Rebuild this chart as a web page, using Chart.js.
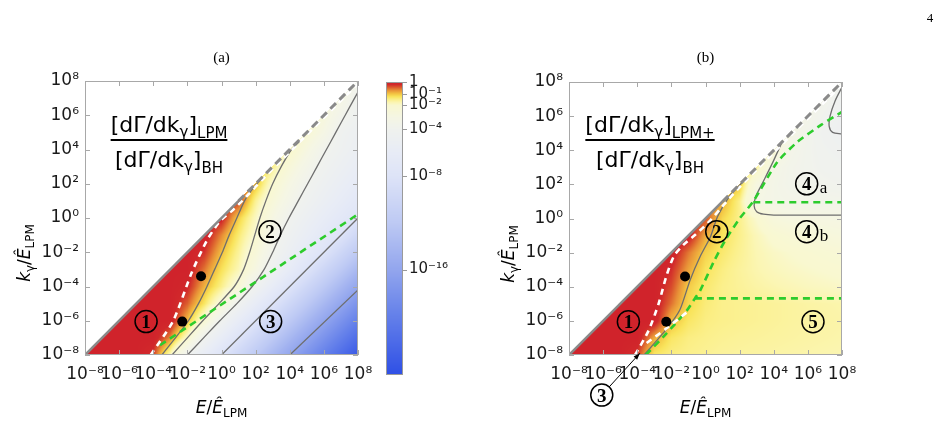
<!DOCTYPE html>
<html>
<head>
<meta charset="utf-8">
<script src="https://cdn.jsdelivr.net/npm/chart.js@4.4.0/dist/chart.umd.min.js"></script>
<style>
  html, body { margin: 0; padding: 0; background: #fff; }
  #wrap { position: relative; width: 943px; height: 448px; }
  #wrap canvas { position: absolute; left: 0; top: 0; }
</style>
</head>
<body>
<div id="wrap">
  <canvas id="panelA" width="943" height="448"></canvas>
  <canvas id="colorbar" width="943" height="448"></canvas>
  <canvas id="panelB" width="943" height="448"></canvas>
</div>
<script>
const _ = null;

// axis ticks (powers of ten)
const tickExps = [-8, -6, -4, -2, 0, 2, 4, 6, 8];
const barTickExps = [0, -1, -2, -4, -8, -16];
const barMinExp = -25;

// log10 of the rate ratio, one value per decade.
// rows: k = 1e-8 ... 1e8, columns: E = 1e-8 ... 1e8 (null where k > E)
const ratioA = [
  [0, 0, 0, 0, -0.31, -1.83, -4, -6, -8, -10, -12, -14, -16, -18, -20, -22, -24],
  [_, 0, 0, 0, 0, -0.66, -2, -4.1, -6.05, -8, -10, -12, -14, -16, -18, -20, -22],
  [_, _, 0, 0, 0, 0, -0.94, -2.2, -4.19, -6.1, -8, -10, -12, -14, -16, -18, -20],
  [_, _, _, 0, 0, 0, -0.47, -1.29, -2.29, -4.19, -6.1, -8, -10, -12, -14, -16, -18],
  [_, _, _, _, 0, 0, -0.14, -0.89, -1.5, -2.29, -4.19, -6.1, -8, -10, -12, -14, -16],
  [_, _, _, _, _, 0, 0, -0.57, -1.22, -1.76, -2.85, -4.44, -6.22, -8, -10, -12, -14],
  [_, _, _, _, _, _, 0, -0.24, -0.96, -1.58, -2.41, -3.79, -5.19, -6.6, -8, -10, -12],
  [_, _, _, _, _, _, _, 0, -0.65, -1.37, -2.06, -3.35, -4.57, -5.71, -6.86, -8, -10],
  [_, _, _, _, _, _, _, _, -0.1, -1.08, -1.85, -2.91, -4.05, -5.04, -6.04, -7.0, -8],
  [_, _, _, _, _, _, _, _, _, -0.3, -1.54, -2.44, -3.41, -4.36, -5.27, -6.18, -7.09],
  [_, _, _, _, _, _, _, _, _, _, -0.95, -2.05, -2.98, -3.91, -4.73, -5.55, -6.37],
  [_, _, _, _, _, _, _, _, _, _, _, -1.5, -2.45, -3.36, -4.23, -4.98, -5.74],
  [_, _, _, _, _, _, _, _, _, _, _, _, -1.8, -2.8, -3.8, -4.5, -5.2],
  [_, _, _, _, _, _, _, _, _, _, _, _, _, -2.2, -3.03, -4.3, -4.9],
  [_, _, _, _, _, _, _, _, _, _, _, _, _, _, -2.6, -3.6, -4.4],
  [_, _, _, _, _, _, _, _, _, _, _, _, _, _, _, -3.0, -4.15],
  [_, _, _, _, _, _, _, _, _, _, _, _, _, _, _, _, -3.6]
];

const ratioB = [
  [0, 0, 0, 0, -0.32, -1.3, -1.45, -1.5, -1.55, -1.6, -1.62, -1.64, -1.66, -1.68, -1.7, -1.72, -1.74],
  [_, 0, 0, 0, 0, -0.85, -1.3, -1.45, -1.5, -1.55, -1.58, -1.6, -1.62, -1.64, -1.66, -1.68, -1.7],
  [_, _, 0, 0, 0, 0, -0.95, -1.3, -1.45, -1.5, -1.53, -1.56, -1.59, -1.62, -1.64, -1.66, -1.68],
  [_, _, _, 0, 0, 0, -0.56, -1.15, -1.4, -1.5, -1.53, -1.56, -1.59, -1.62, -1.65, -1.68, -1.7],
  [_, _, _, _, 0, 0, -0.37, -1.05, -1.35, -1.5, -1.58, -1.66, -1.72, -1.78, -1.84, -1.88, -1.92],
  [_, _, _, _, _, 0, -0.22, -0.8, -1.25, -1.45, -1.6, -1.72, -1.82, -1.9, -1.96, -2.02, -2.08],
  [_, _, _, _, _, _, 0, -0.58, -1.1, -1.35, -1.55, -1.75, -1.9, -2.0, -2.1, -2.2, -2.3],
  [_, _, _, _, _, _, _, -0.05, -0.84, -1.25, -1.5, -1.8, -2.1, -2.3, -2.45, -2.55, -2.65],
  [_, _, _, _, _, _, _, _, -0.4, -1.15, -1.5, -2.0, -2.6, -2.8, -2.85, -2.9, -2.95],
  [_, _, _, _, _, _, _, _, _, -0.85, -1.5, -3.05, -3.3, -3.4, -3.45, -3.5, -3.55],
  [_, _, _, _, _, _, _, _, _, _, -1.0, -2.8, -3.3, -3.6, -3.7, -3.8, -3.9],
  [_, _, _, _, _, _, _, _, _, _, _, -1.6, -3.15, -3.6, -3.8, -4.0, -4.1],
  [_, _, _, _, _, _, _, _, _, _, _, _, -2.2, -3.4, -3.8, -4.1, -4.3],
  [_, _, _, _, _, _, _, _, _, _, _, _, _, -3.1, -3.7, -4.3, -4.7],
  [_, _, _, _, _, _, _, _, _, _, _, _, _, _, -3.4, -4.0, -4.6],
  [_, _, _, _, _, _, _, _, _, _, _, _, _, _, _, -3.6, -4.4],
  [_, _, _, _, _, _, _, _, _, _, _, _, _, _, _, _, -3.8]
];

// lines, as log10(E) / log10(k)
const diagSolidE = [-8, 1], diagSolidK = [-8, 1];
const diagDashE = [1, 8], diagDashK = [1, 8];

const contA1E = [-3.5, -2.7, -1.94, -1.35, -0.85, -0.4, 0.05, 0.45, 0.9, 1.35, 1.9, 2.45];
const contA1K = [-8, -7, -6, -5, -4, -3, -2, -1, 0, 1, 1.8, 2.4];
const contA2E = [-2.9, -2.0, -1.1, -0.15, 0.75, 1.3, 1.65, 1.95, 2.25, 2.6, 3.0, 3.5, 4.1, 4.6];
const contA2K = [-8, -7, -6, -5, -4, -3, -2, -1, 0, 1, 2, 3, 4, 4.5];
const contA3E = [-2.0, -1.05, -0.1, 0.9, 1.8, 2.5, 3.0, 3.45, 3.95, 4.5, 5.05, 5.6, 6.15, 6.7, 7.25, 7.8, 8.0];
const contA3K = [-8, -7, -6, -5, -4, -3, -2, -1, 0, 1, 2, 3, 4, 5, 6, 7, 7.35];
const contA4E = [0, 8], contA4K = [-8, 0];
const contA5E = [4, 8], contA5K = [-8, -4.2];
const whiteAE = [-4.15, -2.83, -1.75, -0.85, -0.1, 0.7, 1.5, 2.5, 8];
const whiteAK = [-8, -6, -3.2, -1.3, -0.2, 0.5, 1.3, 2.35, 7.85];
const greenAE = [-3.61, 8], greenAK = [-7.43, 0.22];

const contB1E = [-3.6, -2.3, -1.5, -0.9, -0.3, 0.3, 0.7, 1.4, 2.2];
const contB1K = [-8, -6.5, -5.35, -3.6, -2.2, -1.05, 0.1, 1.3, 2.15];
const contB2E = [4.45, 3.9, 3.3, 2.95, 2.85, 3.0, 3.4, 4.0, 8.0];
const contB2K = [4.4, 3.2, 2.0, 1.3, 0.75, 0.4, 0.25, 0.2, 0.2];
const contB3E = [8.0, 7.6, 7.3, 7.25, 7.45, 8.0];
const contB3K = [7.7, 6.9, 6.0, 5.4, 5.05, 4.95];
const whiteBE = [-4.13, -3.35, -2.75, -2.3, -1.85, -1.3, -0.6, 0.2, 1.2, 2.3, 8];
const whiteBK = [-8, -6.6, -5.0, -3.4, -2.2, -1.55, -0.95, -0.2, 0.95, 2.15, 7.85];
const whiteB2E = [-3.45, -2.3, -1.1], whiteB2K = [-7.3, -6.45, -5.5];
const greenBE = [-3.5, -2.3, -1.1, -0.62, -0.3, 0.5, 1.2, 2.0, 2.8, 4.2, 5.4, 6.8, 8];
const greenBK = [-8, -6.75, -5.4, -4.68, -4.2, -2.5, -1.2, 0.0, 1.0, 3.3, 4.5, 5.5, 6.25];
const greenB2E = [-0.62, 8], greenB2K = [-4.68, -4.68];
const greenB3E = [2.8, 8], greenB3K = [0.95, 0.95];

// black markers
const dotsE = [-1.2, -2.3];
const dotsK = [-3.4, -6.05];

// region labels
const labelsA = [
  { t: '1', e: -4.42, k: -6.05 }, { t: '2', e: 2.84, k: -0.8 }, { t: '3', e: 2.88, k: -6.05 }
];
const labelsB = [
  { t: '1', e: -4.52, k: -6.05 }, { t: '2', e: 0.66, k: -0.77 },
  { t: '4', e: 5.93, k: 2.03, sub: 'a' }, { t: '4', e: 5.93, k: -0.77, sub: 'b' },
  { t: '5', e: 6.3, k: -6.05 }
];

// colour map: log10 ratio -> rgb
const cmapVals = [0, -0.2, -0.45, -0.7, -1, -1.25, -1.5, -1.75, -2, -3, -4, -6, -8, -12, -16, -20, -25];
const cmapRGB = [
  [208, 35, 43], [209, 40, 43], [219, 90, 45], [232, 145, 55], [243, 196, 66], [249, 228, 92],
  [251, 240, 140], [251, 246, 180], [249, 248, 208], [245, 246, 228], [240, 242, 238],
  [232, 236, 246], [222, 228, 248], [190, 202, 244], [147, 166, 238], [100, 128, 234], [47, 80, 230]
];

const P = e => Math.pow(10, e);
const SUP = { '-': '⁻', '0': '⁰', '1': '¹', '2': '²', '3': '³', '4': '⁴', '5': '⁵', '6': '⁶', '7': '⁷', '8': '⁸', '9': '⁹' };
const powLabel = e => '10' + String(e).split('').map(c => SUP[c]).join('');
const toPts = (es, ks) => es.map((e, i) => ({ x: P(e), y: P(ks[i]) }));

function cmap(v) {
  if (v >= cmapVals[0]) return cmapRGB[0];
  for (let i = 0; i < cmapVals.length - 1; i++) {
    if (v >= cmapVals[i + 1]) {
      const t = (cmapVals[i] - v) / (cmapVals[i] - cmapVals[i + 1]);
      const a = cmapRGB[i], b = cmapRGB[i + 1];
      return [a[0] + (b[0] - a[0]) * t, a[1] + (b[1] - a[1]) * t, a[2] + (b[2] - a[2]) * t];
    }
  }
  return cmapRGB[cmapRGB.length - 1];
}

function fieldAt(grid, E, k) {
  const n = grid.length - 1;
  const fx = Math.min(Math.max(E + 8, 0), n - 1e-9);
  const fy = Math.min(Math.max(k + 8, 0), n - 1e-9);
  const i = Math.floor(fx), j = Math.floor(fy);
  const tx = fx - i, ty = fy - j;
  const g = (jj, ii) => { const v = grid[jj][ii]; return v == null ? grid[ii][ii] : v; };
  return (1 - tx) * (1 - ty) * g(j, i) + tx * (1 - ty) * g(j, i + 1) +
         (1 - tx) * ty * g(j + 1, i) + tx * ty * g(j + 1, i + 1);
}

function heatmapPlugin(grid) {
  return {
    id: 'heatmap',
    beforeDatasetsDraw(chart) {
      const { ctx, chartArea: a, scales: { x, y } } = chart;
      const w = Math.round(a.right - a.left), h = Math.round(a.bottom - a.top);
      const off = document.createElement('canvas');
      off.width = w; off.height = h;
      const octx = off.getContext('2d');
      const img = octx.createImageData(w, h);
      for (let py = 0; py < h; py++) {
        const k = Math.log10(y.getValueForPixel(a.top + py + 0.5));
        for (let px = 0; px < w; px++) {
          const E = Math.log10(x.getValueForPixel(a.left + px + 0.5));
          if (k > E + 0.03) continue;
          const c = cmap(fieldAt(grid, E, k));
          const o = (py * w + px) * 4;
          img.data[o] = c[0]; img.data[o + 1] = c[1]; img.data[o + 2] = c[2]; img.data[o + 3] = 255;
        }
      }
      octx.putImageData(img, 0, 0);
      ctx.drawImage(off, a.left, a.top);
    }
  };
}

const framePlugin = {
  id: 'frame',
  afterDatasetsDraw(chart) {
    const { ctx, chartArea: a, scales: { x, y } } = chart;
    ctx.save();
    ctx.strokeStyle = '#a8a8a8';
    ctx.lineWidth = 1;
    ctx.strokeRect(a.left + 0.5, a.top + 0.5, a.right - a.left - 1, a.bottom - a.top - 1);
    ctx.beginPath();
    tickExps.forEach(e => {
      const px = Math.round(x.getPixelForValue(P(e))) + 0.5;
      const py = Math.round(y.getPixelForValue(P(e))) + 0.5;
      ctx.moveTo(px, a.bottom); ctx.lineTo(px, a.bottom - 5);
      ctx.moveTo(px, a.top); ctx.lineTo(px, a.top + 5);
      ctx.moveTo(a.left, py); ctx.lineTo(a.left + 5, py);
      ctx.moveTo(a.right, py); ctx.lineTo(a.right - 5, py);
    });
    ctx.stroke();
    ctx.restore();
  }
};

function drawRich(ctx, segs, x, y, align) {
  let total = 0;
  segs.forEach(s => { ctx.font = s.f; s.w = ctx.measureText(s.t).width; total += s.w; });
  let cx = align === 'center' ? x - total / 2 : (align === 'right' ? x - total : x);
  ctx.textAlign = 'left';
  ctx.textBaseline = 'alphabetic';
  segs.forEach(s => { ctx.font = s.f; ctx.fillText(s.t, cx, y + (s.dy || 0)); cx += s.w; });
  return total;
}

const SANS = '"DejaVu Sans", sans-serif';
const SERIF = '"Liberation Serif", "DejaVu Serif", serif';

function drawFraction(ctx, cx, barY, sub) {
  const big = '22px ' + SANS, small = '15px ' + SANS;
  const num = [{ t: '[dΓ/dk', f: big }, { t: 'γ', f: small, dy: 5 }, { t: ']', f: big }, { t: sub, f: small, dy: 6 }];
  const den = [{ t: '[dΓ/dk', f: big }, { t: 'γ', f: small, dy: 5 }, { t: ']', f: big }, { t: 'BH', f: small, dy: 6 }];
  const w = drawRich(ctx, num, cx, barY - 8, 'center');
  drawRich(ctx, den, cx, barY + 27, 'center');
  ctx.fillRect(cx - w / 2, barY - 1, w, 2);
}

function drawAxisTitles(ctx, a) {
  const it = 'italic 17px ' + SANS, rg = '17px ' + SANS, sm = '12px ' + SANS;
  drawRich(ctx, [{ t: 'E', f: it }, { t: '/', f: rg }, { t: 'Ê', f: it }, { t: 'LPM', f: sm, dy: 4 }],
    (a.left + a.right) / 2, a.bottom + 58, 'center');
  ctx.save();
  ctx.translate(a.left - 55, a.top + 172);
  ctx.rotate(-Math.PI / 2);
  drawRich(ctx, [{ t: 'k', f: it }, { t: 'γ', f: sm, dy: 4 }, { t: '/', f: rg }, { t: 'Ê', f: it }, { t: 'LPM', f: sm, dy: 4 }],
    0, 0, 'center');
  ctx.restore();
}

function circled(ctx, x, y, t, sub) {
  ctx.beginPath();
  ctx.arc(x, y, 11, 0, Math.PI * 2);
  ctx.lineWidth = 1.5;
  ctx.strokeStyle = '#000';
  ctx.stroke();
  ctx.font = 'bold 19px ' + SERIF;
  ctx.textAlign = 'center';
  ctx.textBaseline = 'alphabetic';
  ctx.fillText(t, x, y + 6.5);
  if (sub) {
    ctx.font = '17px ' + SERIF;
    ctx.textAlign = 'left';
    ctx.fillText(sub, x + 13, y + 9);
  }
}

function lineSet(es, ks, color, width, dash, tension, order) {
  return {
    data: toPts(es, ks), showLine: true, borderColor: color, borderWidth: width,
    borderDash: dash || [], pointRadius: 0, tension: tension || 0, order: order, fill: false
  };
}

function dotSet() {
  return { data: toPts(dotsE, dotsK), pointRadius: 5, backgroundColor: '#000', borderWidth: 0, order: 0 };
}

function axisOpts(which) {
  return {
    type: 'logarithmic', min: P(-8), max: P(8), position: which === 'x' ? 'bottom' : 'left',
    grid: { display: false, drawTicks: false }, border: { display: false },
    ticks: {
      autoSkip: false, maxRotation: 0, minRotation: 0, padding: which === 'x' ? 9 : 6,
      color: '#1a1a1a', font: { family: SANS, size: 17 },
      callback: v => powLabel(Math.round(Math.log10(v)))
    },
    afterBuildTicks: s => { s.ticks = tickExps.map(e => ({ value: P(e) })); },
    afterFit: s => { if (which === 'x') s.height = 30; else s.width = 70; }
  };
}

function makePanel(id, grid, datasets, padding, decorate) {
  return new Chart(document.getElementById(id), {
    type: 'scatter',
    data: { datasets },
    options: {
      responsive: false, animation: false, events: [],
      layout: { padding },
      plugins: { legend: { display: false }, tooltip: { enabled: false } },
      scales: { x: axisOpts('x'), y: axisOpts('y') }
    },
    plugins: [heatmapPlugin(grid), framePlugin, { id: 'deco', afterDraw: decorate }]
  });
}

const GREY = '#6e6e6e', GREEN = '#2dcc2d', DIAG = '#8a8a8a';

makePanel('panelA', ratioA, [
  dotSet(),
  lineSet(diagSolidE, diagSolidK, DIAG, 2.5, [], 0, 1),
  lineSet(diagDashE, diagDashK, DIAG, 3, [8, 5], 0, 1),
  lineSet(whiteAE, whiteAK, '#ffffff', 2.6, [6, 5], 0.25, 2),
  lineSet(greenAE, greenAK, GREEN, 2.6, [7, 5], 0, 3),
  lineSet(contA1E, contA1K, GREY, 1.3, [], 0.2, 5),
  lineSet(contA2E, contA2K, GREY, 1.3, [], 0.2, 5),
  lineSet(contA3E, contA3K, GREY, 1.3, [], 0.2, 5),
  lineSet(contA4E, contA4K, GREY, 1.3, [], 0, 5),
  lineSet(contA5E, contA5K, GREY, 1.3, [], 0, 5)
], { left: 15, right: 585, top: 81, bottom: 63 }, chart => {
  const { ctx, chartArea: a, scales: { x, y } } = chart;
  ctx.save();
  ctx.fillStyle = '#000';
  ctx.font = '15px ' + SERIF;
  ctx.textAlign = 'center';
  ctx.fillText('(a)', (a.left + a.right) / 2, 62);
  drawFraction(ctx, a.left + 84, a.top + 59, 'LPM');
  drawAxisTitles(ctx, a);
  labelsA.forEach(l => circled(ctx, x.getPixelForValue(P(l.e)), y.getPixelForValue(P(l.k)), l.t, l.sub));
  ctx.restore();
});

makePanel('panelB', ratioB, [
  dotSet(),
  lineSet(diagSolidE, diagSolidK, DIAG, 2.5, [], 0, 1),
  lineSet(diagDashE, diagDashK, DIAG, 3, [8, 5], 0, 1),
  lineSet(whiteBE, whiteBK, '#ffffff', 2.6, [6, 5], 0.25, 2),
  lineSet(whiteB2E, whiteB2K, '#ffffff', 2.6, [6, 5], 0.25, 2),
  lineSet(greenBE, greenBK, GREEN, 2.6, [7, 5], 0.2, 3),
  lineSet(greenB2E, greenB2K, GREEN, 2.6, [7, 5], 0, 3),
  lineSet(greenB3E, greenB3K, GREEN, 2.6, [7, 5], 0, 3),
  lineSet(contB1E, contB1K, GREY, 1.3, [], 0.2, 5),
  lineSet(contB2E, contB2K, GREY, 1.3, [], 0.3, 5),
  lineSet(contB3E, contB3K, GREY, 1.3, [], 0.3, 5)
], { left: 499, right: 101, top: 82, bottom: 63 }, chart => {
  const { ctx, chartArea: a, scales: { x, y } } = chart;
  const X = e => x.getPixelForValue(P(e)), Y = k => y.getPixelForValue(P(k));
  ctx.save();
  ctx.fillStyle = '#000';
  ctx.font = '15px ' + SERIF;
  ctx.textAlign = 'center';
  ctx.fillText('(b)', (a.left + a.right) / 2, 62);
  ctx.font = '13px ' + SERIF;
  ctx.fillText('4', 930, 22);
  drawFraction(ctx, a.left + 81, a.top + 58, 'LPM+');
  drawAxisTitles(ctx, a);
  labelsB.forEach(l => circled(ctx, X(l.e), Y(l.k), l.t, l.sub));
  // label 3 sits below the axis, with an arrow to the corner of the region
  const cx = X(-6.08), cy = Y(-10.35), tx = X(-3.85), ty = Y(-7.9);
  circled(ctx, cx, cy, '3');
  const ang = Math.atan2(ty - cy, tx - cx);
  ctx.beginPath();
  ctx.moveTo(cx + Math.cos(ang) * 11, cy + Math.sin(ang) * 11);
  ctx.lineTo(tx, ty);
  ctx.lineWidth = 1;
  ctx.stroke();
  ctx.beginPath();
  ctx.moveTo(tx, ty);
  ctx.lineTo(tx - 7 * Math.cos(ang - 0.35), ty - 7 * Math.sin(ang - 0.35));
  ctx.lineTo(tx - 7 * Math.cos(ang + 0.35), ty - 7 * Math.sin(ang + 0.35));
  ctx.closePath();
  ctx.fill();
  ctx.restore();
});

// colour bar
const colorbarPlugin = {
  id: 'cbar',
  beforeDatasetsDraw(chart) {
    const { ctx, chartArea: a, scales: { y } } = chart;
    ctx.save();
    for (let py = Math.floor(a.top); py < a.bottom; py++) {
      const c = cmap(Math.log10(y.getValueForPixel(py + 0.5)));
      ctx.fillStyle = `rgb(${c[0] | 0},${c[1] | 0},${c[2] | 0})`;
      ctx.fillRect(a.left, py, a.right - a.left, 1);
    }
    ctx.strokeStyle = '#9a9a9a';
    ctx.lineWidth = 1;
    ctx.strokeRect(a.left + 0.5, a.top + 0.5, a.right - a.left - 1, a.bottom - a.top - 1);
    ctx.beginPath();
    barTickExps.forEach(e => {
      const py = Math.round(y.getPixelForValue(P(e))) + 0.5;
      ctx.moveTo(a.right, py); ctx.lineTo(a.right + 4, py);
    });
    ctx.stroke();
    ctx.restore();
  }
};

new Chart(document.getElementById('colorbar'), {
  type: 'scatter',
  data: { datasets: [] },
  options: {
    responsive: false, animation: false, events: [],
    layout: { padding: { left: 386, right: 490, top: 82, bottom: 73 } },
    plugins: { legend: { display: false }, tooltip: { enabled: false } },
    scales: {
      x: { display: false, type: 'linear', min: 0, max: 1 },
      y: {
        type: 'logarithmic', position: 'right', min: P(barMinExp), max: 1,
        grid: { display: false, drawTicks: false }, border: { display: false },
        ticks: {
          autoSkip: false, padding: 6, color: '#1a1a1a', font: { family: SANS, size: 15 },
          callback: v => { const e = Math.round(Math.log10(v)); return e === 0 ? '1' : powLabel(e); }
        },
        afterBuildTicks: s => { s.ticks = barTickExps.map(e => ({ value: P(e) })); },
        afterFit: s => { s.width = 50; }
      }
    }
  },
  plugins: [colorbarPlugin]
});
</script>
</body>
</html>
